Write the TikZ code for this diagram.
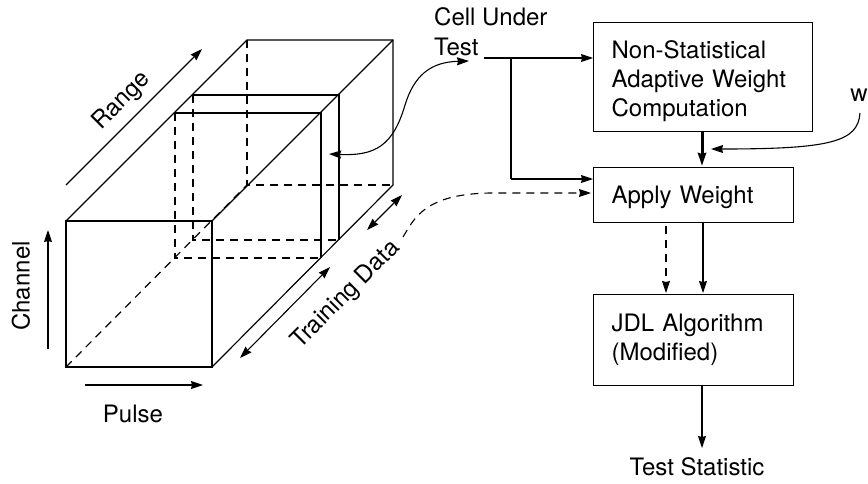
\documentclass[tikz,border=0pt]{standalone}
\usepackage{fontspec}
\setmainfont{TeX Gyre Heros}
\usetikzlibrary{arrows.meta}
\tikzset{
	tip/.tip={Stealth[length=12pt,width=8pt,inset=1pt]},
	line/.style={line width=1.2pt},
	hidden/.style={line, dash pattern=on 8pt off 6pt},
	flow/.style={line width=1.1pt, -tip},
	block/.style={draw, line width=1.2pt, align=left, inner xsep=18pt, inner ysep=0pt, text width=#1, anchor=north west, font=\fontsize{24}{29}\selectfont},
	lab/.style={inner sep=0pt, font=\fontsize{24}{29}\selectfont}
}
\begin{document}
\begin{tikzpicture}[x=1pt, y=-1pt]
	\useasboundingbox (0,0) rectangle (868,483);
	% cube corners
	\coordinate (fa) at (66,221);
	\coordinate (fb) at (212,221);
	\coordinate (fc) at (212,367);
	\coordinate (fd) at (66,367);
	\coordinate (ba) at (247,40);
	\coordinate (bb) at (393,40);
	\coordinate (bc) at (393,185);
	\coordinate (bd) at (247,185);
	\coordinate (ia) at (175,113);
	\coordinate (ib) at (321,113);
	\coordinate (ic) at (321,258);
	\coordinate (id) at (175,258);
	\coordinate (ja) at (193,95);
	\coordinate (jb) at (339,95);
	\coordinate (jc) at (339,240);
	\coordinate (jd) at (193,240);
	% hidden edges
	\draw[hidden] (ba) -- (bd) -- (bc);
	\draw[hidden] (fd) -- (bd);
	\draw[hidden] (ia) -- (id) -- (ic);
	\draw[hidden] (ja) -- (jd) -- (jc);
	% visible edges
	\draw[line] (fa) -- (fb) -- (fc) -- (fd) -- cycle;
	\draw[line] (fa) -- (ba) -- (bb) -- (bc) -- (fc);
	\draw[line] (fb) -- (bb);
	\draw[line] (ia) -- (ib) -- (ic);
	\draw[line] (ja) -- (jb) -- (jc);
	% axes
	\coordinate (r0) at (66,185);
	\coordinate (r1) at (202,49);
	\coordinate (c0) at (48,349);
	\coordinate (c1) at (48,230);
	\coordinate (p0) at (85,385);
	\coordinate (p1) at (203,385);
	\coordinate (t0) at (240,358);
	\coordinate (t1) at (330,267);
	\coordinate (g0) at (367,230);
	\coordinate (g1) at (402,195);
	\path[flow]
	(r0) edge (r1)
	(c0) edge (c1)
	(p0) edge (p1)
	(t0) edge [tip-tip] (t1)
	(g0) edge [tip-tip] (g1);
	\node[lab, rotate=45] (range) at (122,101) {Range};
	\node[lab, rotate=90] (channel) at (21,286) {Channel};
	\node[lab] (pulse) at (133,414) {Pulse};
	\node[lab, rotate=45] (train) at (346,295) {Training Data};
	% right side
	\node[lab, anchor=base west] (cut1) at (434,25) {Cell Under};
	\node[lab, anchor=base west] (cut2) at (434,55) {Test};
	\node[block=183pt, text height=36pt, text depth=73pt] (nsawc) at (593,22) {Non-Statistical\\Adaptive Weight\\Computation};
	\node[block=164pt, text height=36pt, text depth=19pt] (apply) at (593,167) {Apply Weight};
	\node[block=164pt, text height=37pt, text depth=54pt] (jdl) at (593,294) {JDL Algorithm\\(Modified)};
	\node[lab, anchor=base] (stat) at (697,475) {Test Statistic};
	\node[lab, anchor=base east] (wgt) at (868,101) {w};
	\coordinate (cut0) at (484,58);
	\coordinate (split) at (511,58);
	\coordinate (bend) at (511,179);
	\coordinate (cell) at (329,154);
	\coordinate (cell2) at (469,61);
	\coordinate (dash0) at (403,237);
	\coordinate (w0) at (860,113);
	\coordinate (w1) at (711,149);
	\path[flow]
	(cut0) edge (cut0 -| nsawc.west)
	(bend) edge (bend -| apply.west)
	(nsawc.south -| 702,0) edge [line width=3pt, -{Stealth[length=13pt,width=8pt,inset=1pt]}] (702,166)
	(apply.south -| 703,0) edge (703,293)
	(666,226) edge [dash pattern=on 8pt off 6pt] (666,293)
	(jdl.south -| 702,0) edge (702,448);
	\draw[line width=1.1pt] (split) -- (bend);
	\draw[flow, tip-tip] (cell) .. controls (375,156) and (393,146) .. (405,105) .. controls (414,76) and (430,62) .. (cell2);
	\draw[flow, dash pattern=on 8pt off 6pt] (dash0) .. controls (414,219) and (424,194) .. (490,193) -- (591,193);
	\draw[flow] (w0) .. controls (858,142) and (830,149) .. (w1);
\end{tikzpicture}
\end{document}
